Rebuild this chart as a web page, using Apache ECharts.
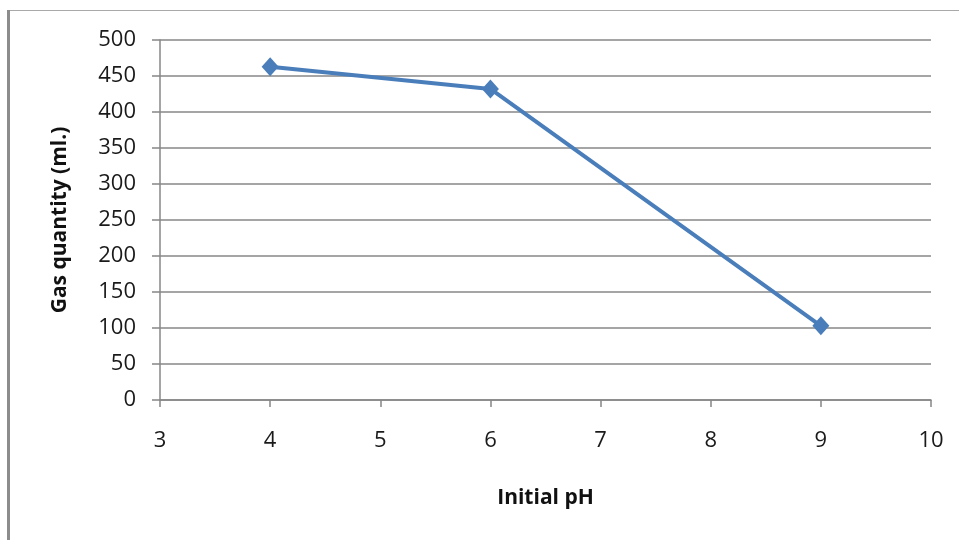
<!DOCTYPE html>
<html>
<head>
<meta charset="utf-8">
<script src="https://cdn.jsdelivr.net/npm/echarts@6/dist/echarts.min.js"></script>
<style>
  html, body { margin: 0; padding: 0; background: #ffffff; }
  #chart { width: 959px; height: 540px; }
</style>
</head>
<body>
<div id="chart"></div>
<script>
// Gas produced at each initial pH
const phValues = [4, 6, 9];
const gasQuantity = [463, 432, 103];

const xTicks = { min: 3, max: 10, step: 1 };
const yTicks = { min: 0, max: 500, step: 50 };

const axisGray = '#878787';
const textFont = '"Open Sans", "DejaVu Sans", sans-serif';

const chart = echarts.init(document.getElementById('chart'), null, { renderer: 'canvas' });

chart.setOption({
  animation: false,
  backgroundColor: '#ffffff',
  grid: { left: 160, right: 28, top: 40, bottom: 140, containLabel: false },
  graphic: [
    // outer chart frame: thin top edge, heavier left edge
    { type: 'rect', shape: { x: 8, y: 10, width: 951, height: 1 }, style: { fill: '#a9a9a9' }, silent: true },
    { type: 'rect', shape: { x: 7, y: 10, width: 3, height: 530 }, style: { fill: '#8c8c8c' }, silent: true }
  ],
  xAxis: {
    type: 'value',
    min: xTicks.min,
    max: xTicks.max,
    interval: xTicks.step,
    name: 'Initial pH',
    nameLocation: 'middle',
    nameGap: 88,
    nameTextStyle: { fontFamily: textFont, fontWeight: 'bold', fontSize: 21, color: '#111' },
    axisLine: { show: true, onZero: false, lineStyle: { color: axisGray, width: 1.5 } },
    axisTick: { show: true, length: 7, lineStyle: { color: axisGray, width: 1.5 } },
    axisLabel: { margin: 30, fontFamily: textFont, fontSize: 22, color: '#1a1a1a' },
    splitLine: { show: false }
  },
  yAxis: {
    type: 'value',
    min: yTicks.min,
    max: yTicks.max,
    interval: yTicks.step,
    name: 'Gas quantity (ml.)',
    nameLocation: 'middle',
    nameRotate: 90,
    nameGap: 89,
    nameTextStyle: { fontFamily: textFont, fontWeight: 'bold', fontSize: 21, color: '#111' },
    axisLine: { show: true, lineStyle: { color: axisGray, width: 1.5 } },
    axisTick: { show: true, length: 8, lineStyle: { color: axisGray, width: 1.5 } },
    axisLabel: { margin: 24, fontFamily: textFont, fontSize: 22, color: '#1a1a1a' },
    splitLine: { show: true, lineStyle: { color: axisGray, width: 1.5 } }
  },
  series: [{
    type: 'line',
    data: phValues.map((x, i) => [x, gasQuantity[i]]),
    symbol: 'diamond',
    symbolSize: [17, 19],
    lineStyle: { color: '#4a7ebb', width: 4 },
    itemStyle: { color: '#4a7ebb' },
    z: 3
  }]
});
</script>
</body>
</html>
